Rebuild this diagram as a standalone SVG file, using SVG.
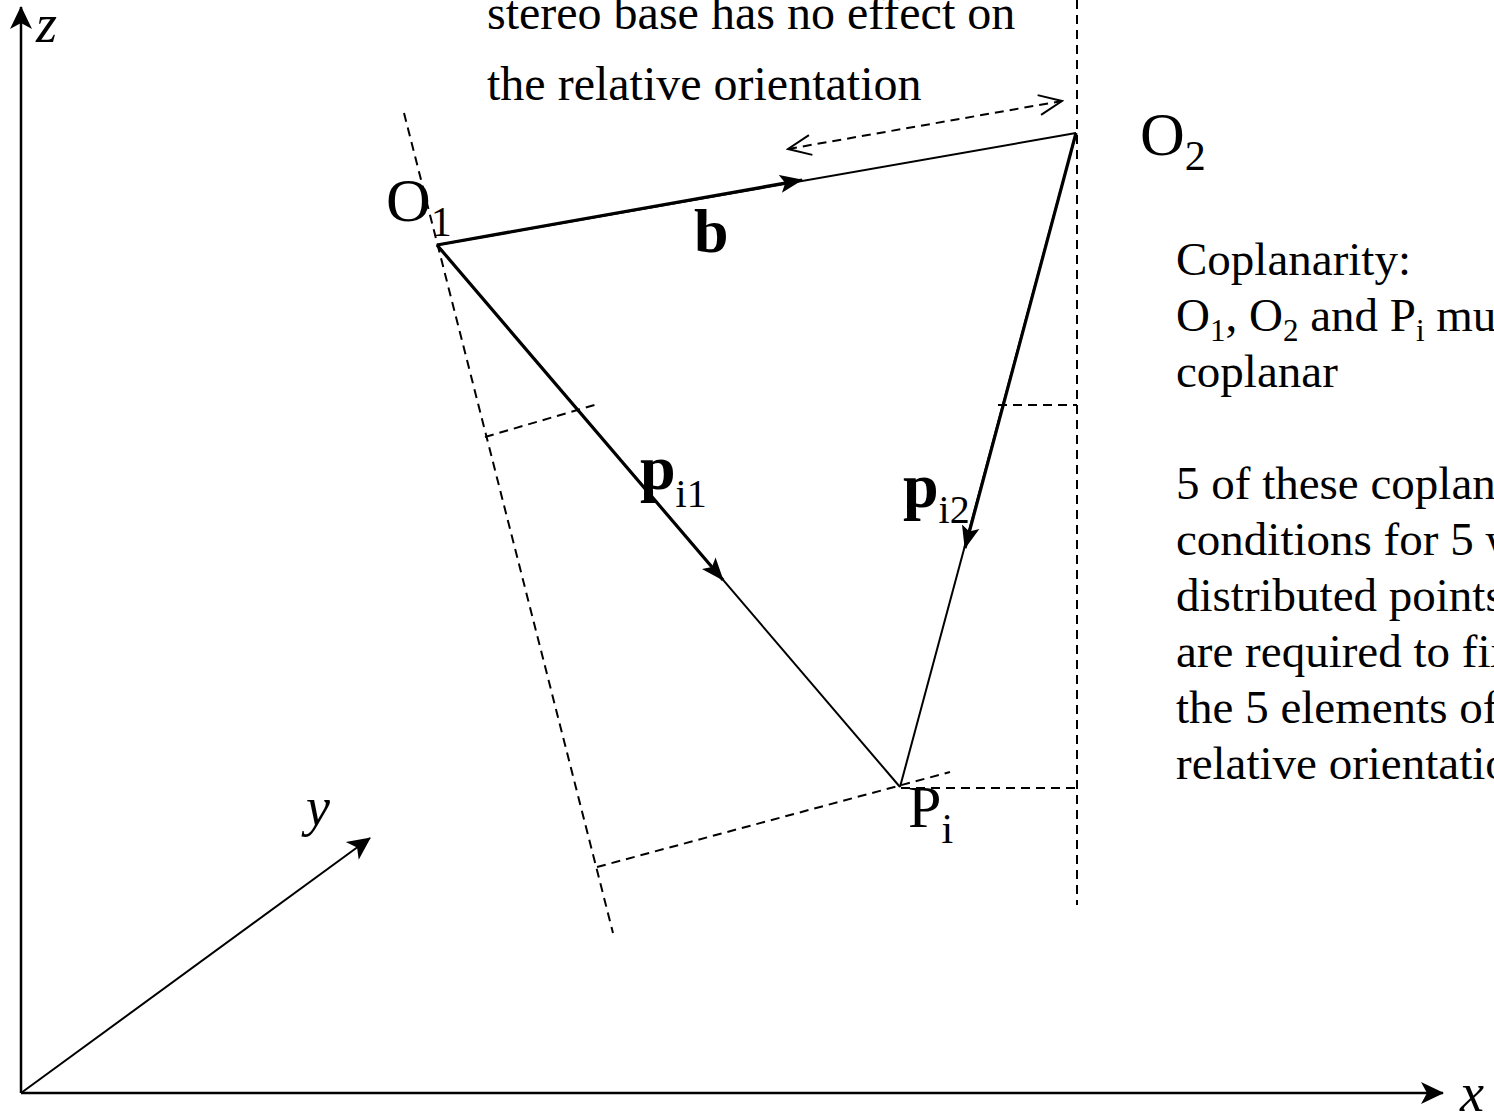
<svg xmlns="http://www.w3.org/2000/svg" width="1494" height="1118" viewBox="0 0 1494 1118">
<style>
.t{font-family:"Liberation Serif","Times New Roman",serif;fill:#000}
.ln{stroke:#000;stroke-width:2;fill:none}
.thk{stroke:#000;stroke-width:3.2;fill:none}
.ds{stroke:#000;stroke-width:2;fill:none;stroke-dasharray:9,6}
.ax{stroke:#000;stroke-width:2.5;fill:none}
</style>
<defs>
<marker id="ah" markerUnits="userSpaceOnUse" viewBox="0 0 24 20" markerWidth="24" markerHeight="20" refX="22" refY="10" orient="auto">
<path d="M0,1 L23,10 L0,19 L5,10 Z" fill="#000"/>
</marker>
<marker id="axh" markerUnits="userSpaceOnUse" viewBox="0 0 24 24" markerWidth="24" markerHeight="24" refX="22" refY="12" orient="auto">
<path d="M0,1 L23,12 L0,23 L6,12 Z" fill="#000"/>
</marker>
<marker id="open" markerUnits="userSpaceOnUse" viewBox="0 0 26 22" markerWidth="26" markerHeight="22" refX="24" refY="11" orient="auto-start-reverse">
<path d="M1,1 L24,11 L1,21" fill="none" stroke="#000" stroke-width="2"/>
</marker>
</defs>

<g id="axes">
<line class="ax" x1="21" y1="1093" x2="21" y2="7" marker-end="url(#axh)"/>
<line class="ax" x1="21" y1="1093" x2="1443" y2="1093" marker-end="url(#axh)"/>
<line class="ln" x1="21" y1="1093" x2="370" y2="838" marker-end="url(#axh)"/>
<text class="t" x="36" y="42" font-size="54" font-style="italic">z</text>
<text class="t" x="306" y="825" font-size="54" font-style="italic">y</text>
<text class="t" x="1460" y="1111" font-size="54" font-style="italic">x</text>
</g>

<g id="connectors">
<!-- construction dashed lines -->
<line class="ds" x1="404" y1="113" x2="613" y2="933"/>
<line class="ds" x1="485" y1="437" x2="598" y2="404"/>
<line class="ds" x1="597" y1="867" x2="950" y2="772"/>
<line class="ds" x1="1077" y1="0" x2="1077" y2="905"/>
<line class="ds" x1="998" y1="405" x2="1077" y2="405"/>
<line class="ds" x1="901" y1="788" x2="1077" y2="788"/>
<!-- double arrow for stereo base -->
<line class="ds" x1="788" y1="149" x2="1062" y2="101" marker-start="url(#open)" marker-end="url(#open)"/>
<!-- triangle sides -->
<line class="ln" x1="437" y1="245" x2="1076" y2="133"/>
<line class="ln" x1="437" y1="245" x2="900" y2="787"/>
<line class="ln" x1="1076" y1="133" x2="900" y2="787"/>
<!-- vectors -->
<line class="thk" x1="437" y1="245" x2="802" y2="180" marker-end="url(#ah)"/>
<line class="thk" x1="437" y1="245" x2="723" y2="580" marker-end="url(#ah)"/>
<line class="thk" x1="1076" y1="133" x2="965" y2="548" marker-end="url(#ah)"/>
</g>

<g id="O1">
<text class="t" x="386" y="221" font-size="62">O<tspan font-size="42" dy="15">1</tspan></text>
</g>
<g id="O2">
<text class="t" x="1140" y="155" font-size="62">O<tspan font-size="42" dy="15">2</tspan></text>
</g>
<g id="Pi">
<text class="t" x="908" y="827" font-size="60">P<tspan font-size="42" dy="16">i</tspan></text>
</g>
<g id="b">
<text class="t" x="694" y="252" font-size="62" font-weight="bold">b</text>
</g>
<g id="pi1">
<text class="t" x="640" y="489" font-size="64" font-weight="bold">p<tspan font-size="40" font-weight="normal" dy="18">i1</tspan></text>
</g>
<g id="pi2">
<text class="t" x="903" y="507" font-size="64" font-weight="bold">p<tspan font-size="40" font-weight="normal" dy="16">i2</tspan></text>
</g>

<g id="note-top">
<text class="t" x="487" y="29" font-size="48">stereo base has no effect on</text>
<text class="t" x="487" y="100" font-size="48">the relative orientation</text>
</g>

<g id="note-right">
<text class="t" x="1176" y="275" font-size="47">Coplanarity:</text>
<text class="t" x="1176" y="331" font-size="47">O<tspan font-size="31" dy="10">1</tspan><tspan dy="-10">, O</tspan><tspan font-size="31" dy="10">2</tspan><tspan dy="-10"> and P</tspan><tspan font-size="31" dy="10">i</tspan><tspan dy="-10"> must be</tspan></text>
<text class="t" x="1176" y="387" font-size="47">coplanar</text>
<text class="t" x="1176" y="499" font-size="47">5 of these coplanarity</text>
<text class="t" x="1176" y="555" font-size="47">conditions for 5 well</text>
<text class="t" x="1176" y="611" font-size="47">distributed points</text>
<text class="t" x="1176" y="667" font-size="47">are required to fix</text>
<text class="t" x="1176" y="723" font-size="47">the 5 elements of the</text>
<text class="t" x="1176" y="779" font-size="47">relative orientation</text>
</g>
</svg>
